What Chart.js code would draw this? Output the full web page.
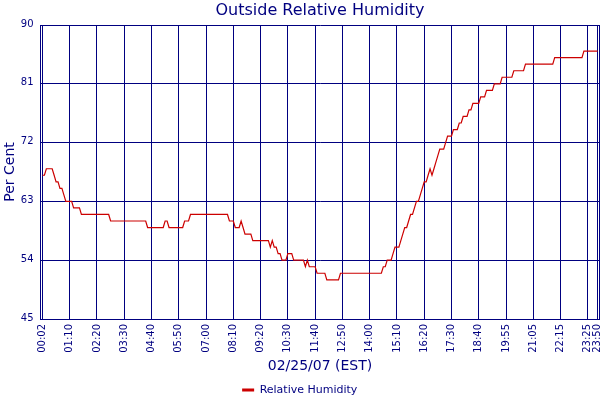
<!DOCTYPE html>
<html>
<head>
<meta charset="utf-8">
<script src="https://cdn.jsdelivr.net/npm/chart.js@4.4.0/dist/chart.umd.min.js"></script>
<style>
html,body{margin:0;padding:0;background:#fff;}
#wrap{width:600px;height:400px;}
</style>
</head>
<body>
<div id="wrap"><canvas id="c" width="600" height="400"></canvas></div>
<script>
// ---- data ----
const seriesName = 'Relative Humidity';
const chartTitle = 'Outside Relative Humidity';
const xTitle = '02/25/07 (EST)';
const yTitle = 'Per Cent';

// one reading per logged sample (5-minute log, 286 samples)
const humidity = [
  67,67,68,68,68,68,67,66,66,65,65,64,63,63,
  63,63,62,62,62,62,61,61,61,61,61,61,61,61,
  61,61,61,61,61,61,61,60,60,60,60,60,60,60,
  60,60,60,60,60,60,60,60,60,60,60,60,59,59,
  59,59,59,59,59,59,59,60,60,59,59,59,59,59,
  59,59,59,60,60,60,61,61,61,61,61,61,61,61,
  61,61,61,61,61,61,61,61,61,61,61,61,60,60,
  60,59,59,59,60,59,58,58,58,58,57,57,57,57,
  57,57,57,57,57,56,57,56,56,55,55,54,54,54,
  55,55,55,54,54,54,54,54,54,53,54,53,53,53,
  53,52,52,52,52,52,51,51,51,51,51,51,51,52,
  52,52,52,52,52,52,52,52,52,52,52,52,52,52,
  52,52,52,52,52,52,52,53,53,54,54,54,55,56,
  56,56,57,58,59,59,60,61,61,62,63,63,64,65,
  66,66,67,68,67,68,69,70,71,71,71,72,73,73,
  73,74,74,74,75,75,76,76,76,77,77,78,78,78,
  78,79,79,79,80,80,80,80,81,81,81,81,82,82,
  82,82,82,82,83,83,83,83,83,83,84,84,84,84,
  84,84,84,84,84,84,84,84,84,84,84,85,85,85,
  85,85,85,85,85,85,85,85,85,85,85,85,86,86,
  86,86,86,86,86,86
];

// sample positions of the time labels on the x axis
const tickIndexes = [0,14,28,42,56,70,84,98,112,126,140,154,168,182,196,210,224,238,252,266,280,285];
const tickLabels = ['00:02','01:10','02:20','03:30','04:40','05:50','07:00','08:10','09:20','10:30','11:40',
                    '12:50','14:00','15:10','16:20','17:30','18:40','19:55','21:05','22:15','23:25','23:50'];

const yMin = 45, yMax = 90, yStep = 9;

// ---- styling ----
const NAVY = '#000080';
const RED = '#cc0000';
const FAMILY = "'DejaVu Sans', Verdana, sans-serif";

const points = humidity.map((v, i) => ({x: i, y: v}));

const framePlugin = {
  id: 'frame',
  afterDraw(chart) {
    const {ctx, chartArea} = chart;
    ctx.save();
    ctx.strokeStyle = NAVY;
    ctx.lineWidth = 1;
    ctx.beginPath();
    ctx.moveTo(chartArea.right, chartArea.top);
    ctx.lineTo(chartArea.right, chartArea.bottom);
    ctx.stroke();
    ctx.restore();
  }
};

new Chart(document.getElementById('c'), {
  type: 'line',
  data: {
    datasets: [{
      label: seriesName,
      data: points,
      borderColor: RED,
      backgroundColor: RED,
      borderWidth: 1.2,
      pointRadius: 0,
      tension: 0,
      fill: false
    }]
  },
  plugins: [framePlugin],
  options: {
    responsive: false,
    animation: false,
    layout: {padding: {right: 0.5, left: 0, top: 0, bottom: 0}},
    scales: {
      x: {
        type: 'linear',
        min: -1,
        max: humidity.length,
        afterBuildTicks(scale) {
          scale.ticks = tickIndexes.map(v => ({value: v}));
        },
        afterFit(scale) {
          scale.paddingLeft = 0;
          scale.paddingRight = 0;
          scale.height = 65.5;
        },
        ticks: {
          autoSkip: false,
          minRotation: 90,
          maxRotation: 90,
          padding: 5,
          color: NAVY,
          font: {family: FAMILY, size: 10},
          callback(value) {
            const k = tickIndexes.indexOf(value);
            return k >= 0 ? tickLabels[k] : '';
          }
        },
        grid: {color: NAVY, lineWidth: 1, drawTicks: false},
        border: {display: true, color: NAVY, width: 1},
        title: {
          display: true,
          text: xTitle,
          color: NAVY,
          font: {family: FAMILY, size: 14},
          padding: {top: 5.5, bottom: 9.4}
        }
      },
      y: {
        type: 'linear',
        min: yMin,
        max: yMax,
        afterBuildTicks(scale) {
          const t = [];
          for (let v = yMin; v <= yMax; v += yStep) t.push({value: v});
          scale.ticks = t;
        },
        afterFit(scale) {
          scale.width = 40.5;
        },
        ticks: {
          stepSize: yStep,
          padding: 7,
          color: NAVY,
          labelOffset: -1,
          font: {family: FAMILY, size: 10}
        },
        grid: {color: NAVY, lineWidth: 1, drawTicks: false},
        border: {display: true, color: NAVY, width: 1},
        title: {
          display: true,
          text: yTitle,
          color: NAVY,
          font: {family: FAMILY, size: 14},
          padding: {top: 2, bottom: 2}
        }
      }
    },
    plugins: {
      title: {
        display: true,
        text: chartTitle,
        color: NAVY,
        fullSize: false,
        font: {family: FAMILY, size: 16, weight: 'normal'},
        padding: {top: 1, bottom: 4.8}
      },
      legend: {
        display: true,
        position: 'bottom',
        maxHeight: 15.5,
        labels: {
          color: NAVY,
          font: {family: FAMILY, size: 11},
          boxWidth: 12,
          boxHeight: 3,
          padding: 0,
          generateLabels(chart) {
            return Chart.defaults.plugins.legend.labels.generateLabels(chart).map(l => Object.assign(l, {lineWidth: 0, fillStyle: RED, strokeStyle: RED}));
          }
        }
      },
      tooltip: {enabled: false}
    }
  }
});
</script>
</body>
</html>
